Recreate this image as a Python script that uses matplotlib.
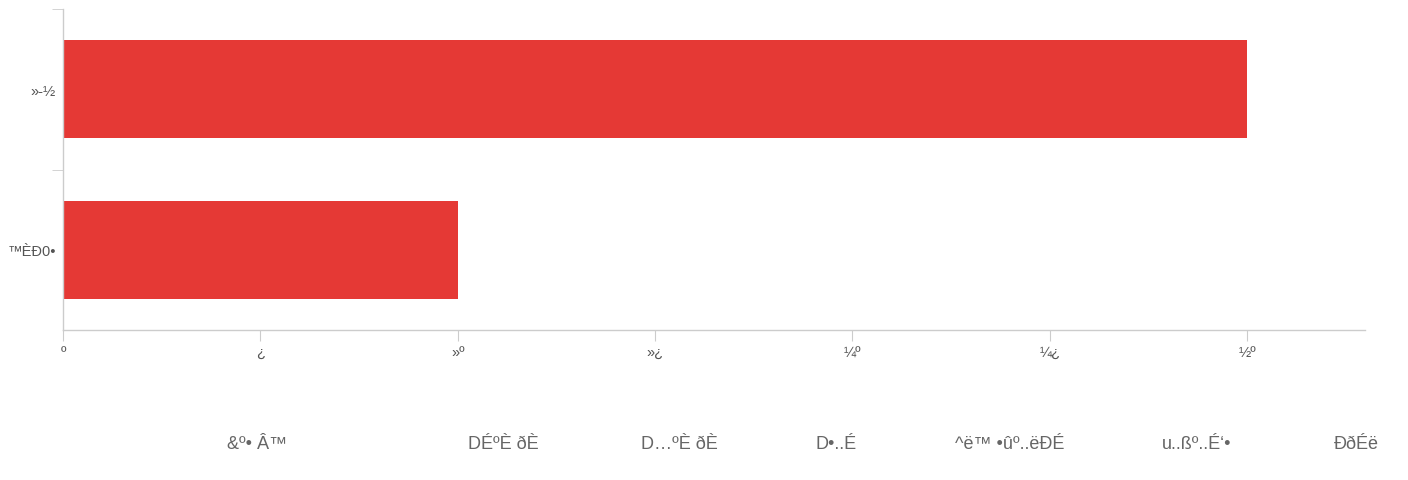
import matplotlib
matplotlib.use("Agg")
import matplotlib.pyplot as plt

plt.rcParams['font.family'] = ['Liberation Sans', 'DejaVu Sans']

categories = ["™ÈÐ0•", "»-½"]
values = [2, 6]
xtick_values = [0, 1, 2, 3, 4, 5, 6]
xtick_labels = ["º", "¿", "»º", "»¿", "¼º", "¼¿", "½º"]
legend_labels = ["&º• Â™", "DÉºÈ ðÈ", "D…ºÈ ðÈ", "D•..É", "^ë™ •ûº..ëÐÉ", "u..ßº..É‘•", "ÐðÉë"]
legend_x = [257, 503, 679, 836, 1010, 1197, 1356]

W, H = 1408, 481
fig = plt.figure(figsize=(W/100, H/100), dpi=100)
ax = fig.add_axes([63/W, (H-331)/H, 1302/W, 321/H])

bar_color = "#e53935"
ax.barh(range(len(categories)), values, height=0.61, color=bar_color)

ax.set_xlim(0, 1302/197.33)
ax.set_ylim(-0.5, 1.5)

for s in ["top", "right"]:
    ax.spines[s].set_visible(False)
for s in ["left", "bottom"]:
    ax.spines[s].set_color("#cccccc")
    ax.spines[s].set_linewidth(1)

ax.set_xticks(xtick_values)
ax.set_xticklabels(xtick_labels, fontsize=10.5, color="#555555")
ax.tick_params(axis='x', length=8, color="#cccccc", pad=3)

ax.set_yticks(range(len(categories)))
ax.set_yticklabels(categories, fontsize=10.5, color="#555555")
ax.tick_params(axis='y', which='major', length=0, pad=5)
ax.set_yticks([0.5, 1.5], minor=True)
ax.tick_params(axis='y', which='minor', length=8, color="#cccccc")

for lab, xp in zip(legend_labels, legend_x):
    fig.text(xp/W, 1 - 445/H, lab, ha='center', va='center', fontsize=13, color="#666666")

fig.savefig("out.png", dpi=100)
